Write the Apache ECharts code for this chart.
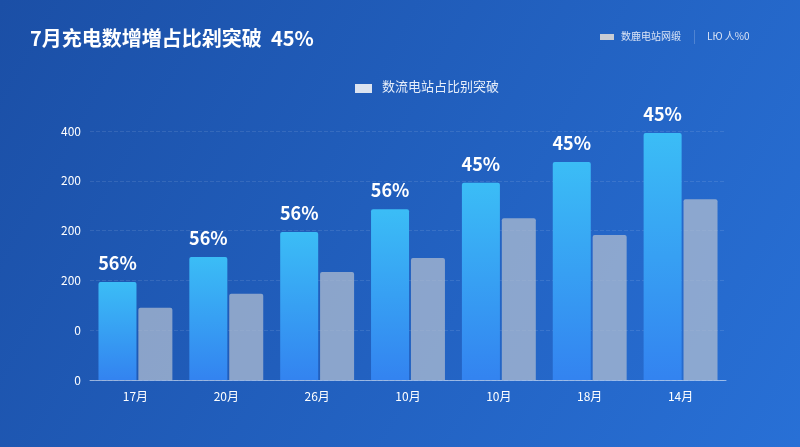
<!DOCTYPE html>
<html lang="zh">
<head>
  <meta charset="UTF-8">
  <title>chart</title>
  <style>
    body { margin: 0; padding: 0; }
    #main { width: 800px; height: 447px; }
  </style>
</head>
<body>
  <div id="main"></div>
</body>
</html>
<script src="https://cdn.jsdelivr.net/npm/echarts@6/dist/echarts.min.js"></script>
<script>
var categories = ['17月', '20月', '26月', '10月', '10月', '18月', '14月']
var blueValues = [197, 247, 297, 343, 396, 438, 496]
var grayValues = [145, 173, 217, 245, 325, 291, 363]
var blueLabels = ['56%', '56%', '56%', '56%', '45%', '45%', '45%']
var yTickLabels = ['0', '0', '200', '200', '200', '400']

var chart = echarts.init(document.getElementById('main'))
var font = '"Noto Sans CJK SC", "Noto Sans", sans-serif'

chart.setOption({
  backgroundColor: new echarts.graphic.LinearGradient(0, 0, 1, 1, [
    { offset: 0, color: '#1b4fa6' },
    { offset: 1, color: '#2870d6' }
  ]),
  textStyle: { fontFamily: font },
  grid: { left: 90, right: 74, top: 131, bottom: 67 },
  graphic: [
    { type: 'text', left: 30, top: 28, style: { text: '7月充电数增増占比剁突破  45%', fill: '#fff', font: 'bold 20px ' + font } },
    { type: 'rect', left: 600, top: 34, shape: { width: 14, height: 6 }, style: { fill: '#c8ccd4' } },
    { type: 'text', left: 621, top: 31, style: { text: '数鹿电站网缎', fill: '#dbe4f5', font: '10px ' + font } },
    { type: 'rect', left: 694, top: 30, shape: { width: 1, height: 14 }, style: { fill: 'rgba(255,255,255,0.2)' } },
    { type: 'text', left: 707, top: 31, style: { text: 'LЮ 人%0', fill: '#dbe4f5', font: '10px ' + font } },
    { type: 'rect', left: 355, top: 84, shape: { width: 17, height: 9 }, style: { fill: '#dbe3f0' } },
    { type: 'text', left: 382, top: 80, style: { text: '数流电站占比别突破', fill: '#e6eefa', font: '13px ' + font } }
  ],
  xAxis: {
    type: 'category',
    data: categories,
    axisLine: { lineStyle: { color: 'rgba(255,255,255,0.5)' } },
    axisTick: { show: false },
    axisLabel: { color: '#fff', fontSize: 12, margin: 10 }
  },
  yAxis: {
    type: 'value',
    min: 0,
    max: 500,
    interval: 100,
    axisLabel: {
      color: '#fff', fontSize: 12, margin: 9,
      formatter: function (v) { return yTickLabels[v / 100] }
    },
    splitLine: { lineStyle: { color: 'rgba(255,255,255,0.1)', type: 'dashed' } }
  },
  series: [
    {
      type: 'bar',
      data: blueValues,
      barWidth: 38,
      barGap: '5%',
      itemStyle: {
        borderRadius: [2, 2, 0, 0],
        color: new echarts.graphic.LinearGradient(0, 0, 0, 1, [
          { offset: 0, color: '#3bbdf6' },
          { offset: 1, color: '#3383f0' }
        ])
      },
      label: {
        show: true, position: 'top', distance: 10, color: '#fff',
        fontSize: 18, fontWeight: 'bold',
        formatter: function (p) { return blueLabels[p.dataIndex] }
      }
    },
    {
      type: 'bar',
      data: grayValues,
      barWidth: 34,
      itemStyle: { color: 'rgba(175,188,208,0.75)', borderRadius: [2, 2, 0, 0] }
    }
  ]
})
</script>
